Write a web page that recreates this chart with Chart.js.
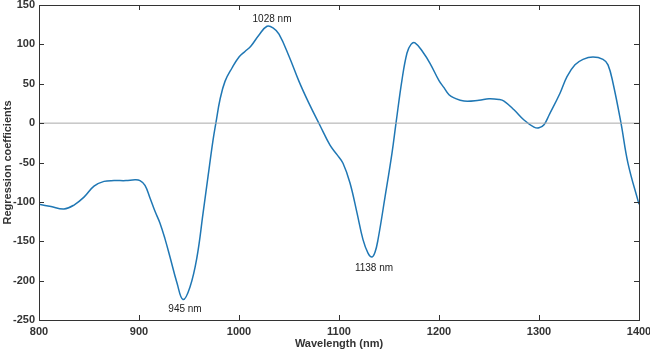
<!DOCTYPE html>
<html>
<head>
<meta charset="utf-8">
<script src="https://cdn.jsdelivr.net/npm/chart.js@4"></script>
<style>
  html, body { margin: 0; padding: 0; background: #fff; }
  #wrap { width: 650px; height: 352px; position: relative; }
</style>
</head>
<body>
<div id="wrap"><canvas id="chart"></canvas></div>
<script>
// Wavelength (nm) and regression coefficient
const wavelengths = [800, 812, 825, 835, 845, 855, 865, 875, 887, 896, 901, 906, 911, 916, 921, 926, 931, 938, 944, 951, 958, 964, 969, 974, 977, 981, 986, 993, 1000, 1006, 1012, 1020, 1028, 1034, 1040, 1050, 1060, 1070, 1081, 1091, 1098, 1104, 1111, 1118, 1124, 1129, 1133, 1136, 1139, 1146, 1153, 1157, 1163, 1168, 1172, 1176, 1184, 1191, 1200, 1205, 1210, 1215, 1225, 1240, 1250, 1260, 1265, 1275, 1285, 1295, 1300, 1305, 1310, 1321, 1328, 1336, 1344, 1354, 1364, 1369, 1374, 1382, 1389, 1400];
const coefficients = [-103, -106, -109, -104, -94, -80, -74, -73, -73, -72, -73, -79, -95, -112, -127, -147, -170, -203, -224, -208, -170, -115, -68, -22, 1, 30, 53, 70, 84, 91, 98, 112, 123, 121, 113, 85, 53, 25, -3, -28, -40, -51, -76, -114, -148, -165, -170, -164, -148, -94, -38, 0, 55, 89, 100, 102, 90, 76, 54, 45, 36, 32, 28, 29, 31, 30, 28, 17, 4, -5, -6, -2, 10, 38, 59, 74, 81, 84, 81, 74, 51, 0, -51, -103];
const xTicks = [800, 900, 1000, 1100, 1200, 1300, 1400];
const yTicks = [-250, -200, -150, -100, -50, 0, 50, 100, 150];
const peakLabels = [
  { text: '945 nm', x: 946, y: -224, dy: 10 },
  { text: '1028 nm', x: 1033, y: 123, dy: -7 },
  { text: '1138 nm', x: 1135, y: -170, dy: 11 }
];

const lineColor = '#1f77b4';
const axisColor = '#333';
const font = 'Liberation Sans, Arial, sans-serif';

const points = wavelengths.map((w, i) => ({ x: w, y: coefficients[i] }));

// Box, inward ticks, peak labels and axis titles
const decorPlugin = {
  id: 'decor',
  afterDraw(chart) {
    const ctx = chart.ctx;
    const xs = chart.scales.x, ys = chart.scales.y;
    const a = chart.chartArea;
    ctx.save();
    ctx.strokeStyle = axisColor;
    ctx.lineWidth = 1;
    ctx.strokeRect(a.left + 0.5, a.top + 0.5, a.right - a.left, a.bottom - a.top);
    ctx.beginPath();
    xTicks.forEach(t => {
      const px = Math.round(xs.getPixelForValue(t)) + 0.5;
      ctx.moveTo(px, a.bottom); ctx.lineTo(px, a.bottom - 5);
      ctx.moveTo(px, a.top); ctx.lineTo(px, a.top + 5);
    });
    yTicks.forEach(t => {
      const py = Math.round(ys.getPixelForValue(t)) + 0.5;
      ctx.moveTo(a.left, py); ctx.lineTo(a.left + 5, py);
      ctx.moveTo(a.right, py); ctx.lineTo(a.right - 5, py);
    });
    ctx.stroke();

    ctx.fillStyle = '#222';
    ctx.font = '10px ' + font;
    ctx.textAlign = 'center';
    ctx.textBaseline = 'middle';
    peakLabels.forEach(p => {
      ctx.fillText(p.text, xs.getPixelForValue(p.x), ys.getPixelForValue(p.y) + p.dy);
    });

    ctx.fillStyle = '#333';
    ctx.font = 'bold 11px ' + font;
    ctx.fillText('Wavelength (nm)', (a.left + a.right) / 2, 344);
    ctx.translate(8, (a.top + a.bottom) / 2);
    ctx.rotate(-Math.PI / 2);
    ctx.fillText('Regression coefficients', 0, 0);
    ctx.restore();
  }
};

new Chart(document.getElementById('chart'), {
  type: 'line',
  data: {
    datasets: [
      {
        data: [{ x: 800, y: 0 }, { x: 1400, y: 0 }],
        borderColor: '#aaa',
        borderWidth: 1,
        pointRadius: 0,
        tension: 0
      },
      {
        data: points,
        borderColor: lineColor,
        borderWidth: 1.5,
        pointRadius: 0,
        tension: 0.4
      }
    ]
  },
  options: {
    responsive: true,
    maintainAspectRatio: false,
    animation: false,
    layout: { padding: { top: 5, right: 11, left: 0, bottom: 0 } },
    plugins: { legend: { display: false }, tooltip: { enabled: false } },
    scales: {
      x: {
        type: 'linear',
        min: 800, max: 1400,
        afterBuildTicks: s => { s.ticks = xTicks.map(v => ({ value: v })); },
        afterFit: s => { s.height = 32; s.paddingLeft = 0; s.paddingRight = 0; },
        grid: { display: false, drawTicks: false },
        border: { display: false },
        ticks: {
          color: '#333', padding: 5, maxRotation: 0,
          font: { family: font, size: 11, weight: 'bold' },
          callback: v => String(v)
        }
      },
      y: {
        min: -250, max: 150,
        afterBuildTicks: s => { s.ticks = yTicks.map(v => ({ value: v })); },
        afterFit: s => { s.width = 39; s.paddingTop = 0; s.paddingBottom = 0; },
        grid: { display: false, drawTicks: false },
        border: { display: false },
        ticks: {
          color: '#333', padding: 4,
          font: { family: font, size: 11, weight: 'bold' },
          callback: v => String(v)
        }
      }
    }
  },
  plugins: [decorPlugin]
});
</script>
</body>
</html>
